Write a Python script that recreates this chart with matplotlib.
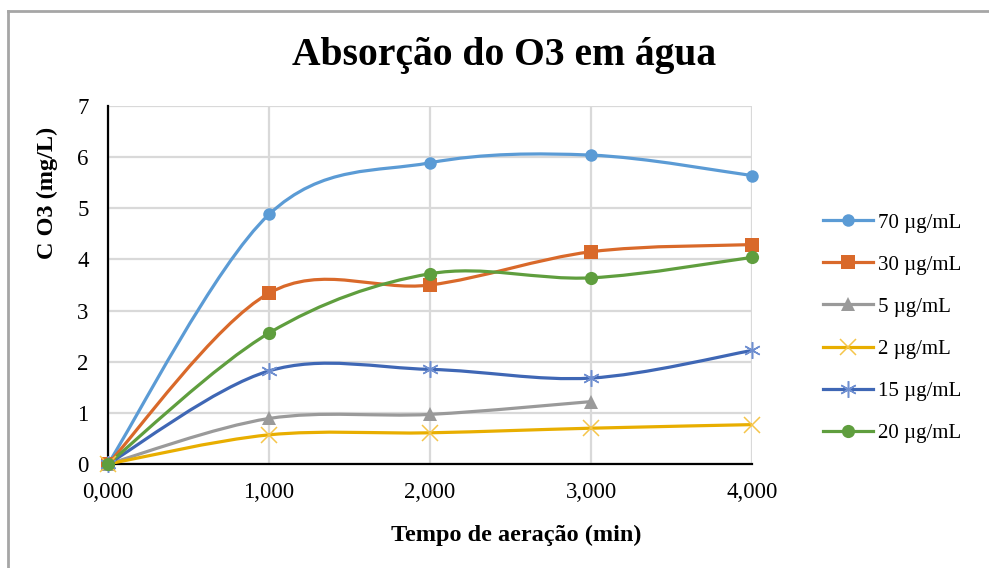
import numpy as np
import matplotlib
matplotlib.use("Agg")
from matplotlib import pyplot as plt
from matplotlib.path import Path
from matplotlib.patches import PathPatch
from matplotlib.lines import Line2D

plt.rcParams['font.family'] = ['Liberation Serif', 'DejaVu Serif']

tempo = [0, 1000, 2000, 3000, 4000]
c_70 = [0, 4.88, 5.89, 6.04, 5.64]
c_30 = [0, 3.34, 3.50, 4.15, 4.29]
c_5 = [0, 0.89, 0.97, 1.22]
c_2 = [0, 0.57, 0.61, 0.70, 0.77]
c_15 = [0, 1.82, 1.85, 1.68, 2.22]
c_20 = [0, 2.56, 3.72, 3.64, 4.04]

labels = ['70 µg/mL', '30 µg/mL', '5 µg/mL', '2 µg/mL', '15 µg/mL', '20 µg/mL']
series = [c_70, c_30, c_5, c_2, c_15, c_20]
colors = ['#5B9BD5', '#D9692A', '#9A9A9A', '#E8AE00', '#3F67B5', '#5F9E3E']
marker_colors = ['#5B9BD5', '#D9692A', '#9A9A9A', '#F5C54A', '#6F8FD0', '#5F9E3E']
markers = ['o', 's', '^', 'x', (6, 2, 0), 'o']
msizes = [9, 10, 10.5, 11, 12, 9.5]


def smooth_path(x, y):
    # bezier segments, control points from neighbouring points (1/6 rule)
    pts = np.column_stack([x, y]).astype(float)
    n = len(pts)
    verts = [pts[0]]
    codes = [Path.MOVETO]
    for i in range(n - 1):
        p0 = pts[max(i - 1, 0)]
        p1 = pts[i]
        p2 = pts[i + 1]
        p3 = pts[min(i + 2, n - 1)]
        c1 = p1 + (p2 - p0) / 6.0
        c2 = p2 - (p3 - p1) / 6.0
        verts += [c1, c2, p2]
        codes += [Path.CURVE4] * 3
    return Path(verts, codes)


fig = plt.figure(figsize=(9.89, 5.68), dpi=100)
ax = fig.add_axes([108 / 989, 1 - 464 / 568, 644 / 989, 358 / 568])

handles = []
for y, lab, col, mcol, mk, ms in zip(series, labels, colors, marker_colors, markers, msizes):
    x = tempo[:len(y)]
    ax.add_patch(PathPatch(smooth_path(x, y), facecolor='none', edgecolor=col,
                           lw=2.3, zorder=3, capstyle='round'))
    thin = mk == 'x' or isinstance(mk, tuple)
    ax.plot(x, y, linestyle='none', marker=mk, markersize=ms, color=mcol,
            markeredgewidth=1.1 if thin else 0, zorder=4, clip_on=False)
    handles.append(Line2D([0], [0], color=col, lw=2.3, marker=mk, markersize=ms,
                          markerfacecolor=mcol, markeredgecolor=mcol,
                          markeredgewidth=1.1 if thin else 0))

ax.set_xlim(0, 4000)
ax.set_ylim(0, 7)
ax.set_xticks(tempo)
ax.set_xticklabels(['%d,000' % (t // 1000) for t in tempo])
ax.set_yticks(range(0, 8))
ax.grid(True, color='#D9D9D9', lw=1.6, zorder=0)
ax.set_axisbelow(True)
for s in ['top', 'right']:
    ax.spines[s].set_visible(False)
for s in ['left', 'bottom']:
    ax.spines[s].set_color('black')
    ax.spines[s].set_linewidth(1.6)
    ax.spines[s].set_zorder(2)
ax.tick_params(length=0, labelsize=16.5)
ax.tick_params(axis='x', pad=13)
ax.tick_params(axis='y', pad=14)

fig.text(504 / 989, 1 - 55 / 568, 'Absorção do O3 em água', ha='center', va='center',
         fontsize=28.5, fontweight='bold')
fig.text(516 / 989, 1 - 535 / 568, 'Tempo de aeração (min)', ha='center', va='center',
         fontsize=17.5, fontweight='bold')
fig.text(47 / 989, 1 - 193 / 568, 'C O3 (mg/L)', ha='center', va='center',
         rotation=90, fontsize=17.5, fontweight='bold')

fig.legend(handles, labels, loc='center left', bbox_to_anchor=(804 / 989, 1 - 328 / 568),
           frameon=False, fontsize=15, handlelength=2.4, labelspacing=1.08,
           handletextpad=0.25)

# outer chart border
fig.add_artist(Line2D([8 / 989, 1], [1 - 10.5 / 568] * 2, color='#A6A6A6', lw=2,
                      transform=fig.transFigure))
fig.add_artist(Line2D([8 / 989] * 2, [0, 1 - 10.5 / 568], color='#A6A6A6', lw=2,
                      transform=fig.transFigure))

fig.savefig('out.png', dpi=100)
